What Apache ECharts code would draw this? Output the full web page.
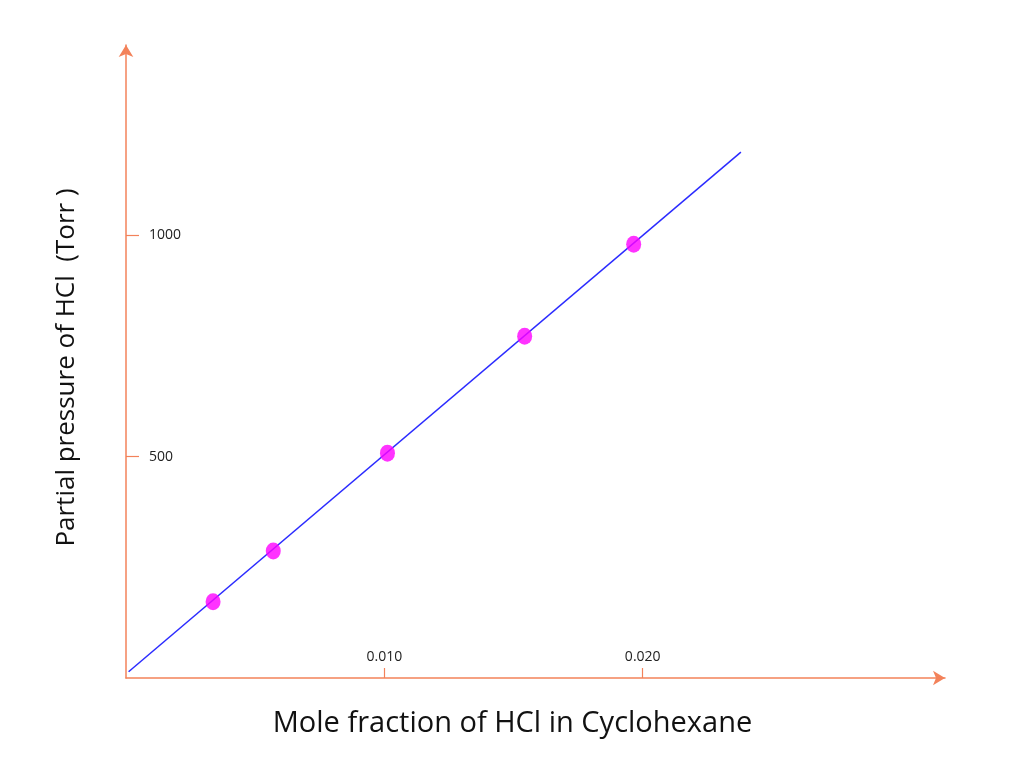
<!DOCTYPE html>
<html lang="en">
<head>
    <meta charset="utf-8">
    <title>Henry's law - HCl in cyclohexane</title>
    <script src="https://cdn.jsdelivr.net/npm/echarts@6/dist/echarts.min.js"></script>
    <style>
        html, body { margin: 0; padding: 0; background: #fff; }
    </style>
</head>
<body>
<div id="main" style="width: 1024px;height:779px;"></div>
<script type="text/javascript">
    // measured points (mole fraction, Torr)
    var moleFraction = [0.00337, 0.00570, 0.01012, 0.01543, 0.01965];
    var pressure = [172, 287, 508, 772, 980];

    // ends of the fitted straight line
    var fitX = [0.0001, 0.0238];
    var fitY = [14, 1188];

    var xTicks = [0.01, 0.02];
    var xTickText = ['0.010', '0.020'];
    var yTicks = [500, 1000];

    var points = moleFraction.map(function (x, i) { return [x, pressure[i]]; });
    var fitLine = fitX.map(function (x, i) { return [x, fitY[i]]; });

    var axisColor = '#f3825a';
    var font = 'Open Sans';

    var myChart = echarts.init(document.getElementById('main'));

    var option = {
        animation: false,
        backgroundColor: '#fff',
        grid: {
            left: 126,
            right: 79,
            top: 45,
            bottom: 101,
            containLabel: false
        },
        xAxis: {
            type: 'value',
            min: 0,
            max: 0.0317,
            interval: 0.01,
            splitLine: { show: false },
            axisLine: {
                lineStyle: { color: axisColor, width: 1.5 },
                symbol: ['none', 'arrow'],
                symbolSize: [11, 12]
            },
            axisTick: {
                inside: true,
                length: 10,
                customValues: xTicks,
                lineStyle: { color: axisColor, width: 1.2 }
            },
            axisLabel: {
                inside: true,
                margin: 14,
                customValues: xTicks,
                color: '#222',
                fontFamily: font,
                fontSize: 14,
                formatter: function (v) {
                    var k = xTicks.indexOf(Math.round(v * 1000) / 1000);
                    return k >= 0 ? xTickText[k] : '';
                }
            },
            name: 'Mole fraction of HCl in Cyclohexane',
            nameLocation: 'middle',
            nameGap: 31,
            nameTextStyle: {
                color: '#111',
                fontFamily: font,
                fontSize: 29,
                padding: [0, 46, 0, 0]
            }
        },
        yAxis: {
            type: 'value',
            min: 0,
            max: 1430,
            interval: 500,
            splitLine: { show: false },
            axisLine: {
                lineStyle: { color: axisColor, width: 1.5 },
                symbol: ['none', 'arrow'],
                symbolSize: [11, 12]
            },
            axisTick: {
                inside: true,
                length: 13,
                customValues: yTicks,
                lineStyle: { color: axisColor, width: 1.2 }
            },
            axisLabel: {
                inside: true,
                margin: 23,
                customValues: yTicks,
                color: '#222',
                fontFamily: font,
                fontSize: 14,
                formatter: function (v) { return String(v); }
            },
            name: 'Partial pressure of HCl  (Torr )',
            nameLocation: 'middle',
            nameGap: 46,
            nameTextStyle: {
                color: '#111',
                fontFamily: font,
                fontSize: 26,
                padding: [0, 12, 0, 0]
            }
        },
        series: [
            {
                type: 'line',
                data: fitLine,
                symbol: 'none',
                lineStyle: { color: '#2b2bff', width: 1.5 },
                z: 2
            },
            {
                type: 'scatter',
                data: points,
                symbol: 'circle',
                symbolSize: [15, 17],
                itemStyle: { color: '#ff00ff' },
                z: 3
            }
        ]
    };

    myChart.setOption(option);
</script>
</body>
</html>
